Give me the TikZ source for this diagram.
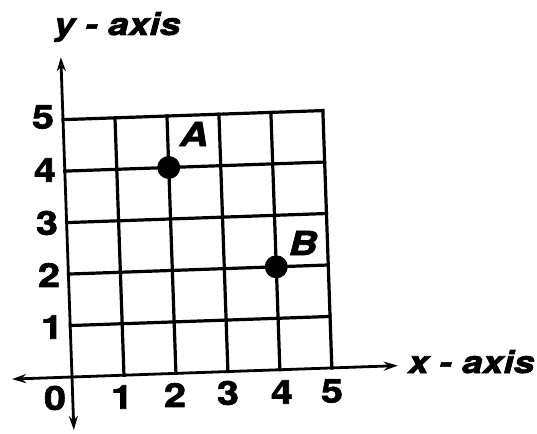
\documentclass[tikz,border=0pt]{standalone}
\usepackage{fontspec}
\setmainfont{TeX Gyre Heros}[FakeStretch=1.2, BoldFeatures={FakeBold=2}, BoldItalicFeatures={FakeBold=2}]
\usetikzlibrary{arrows.meta}
\begin{document}
\begin{tikzpicture}[x=1pt,y=-1pt,
  gridline/.style={line width=3.2pt, line cap=rect},
  axisline/.style={line width=2.8pt, {Stealth[length=14pt,width=9pt]}-{Stealth[length=14pt,width=9pt]}},
  dot/.style={circle, fill=black, inner sep=0pt, minimum size=23pt},
  num/.style={font=\fontsize{33}{40}\selectfont\bfseries, inner sep=0pt},
  ptlabel/.style={font=\fontsize{33}{40}\selectfont\bfseries\itshape, inner sep=0pt},
  axlabel/.style={font=\fontsize{31}{38}\selectfont\bfseries\itshape, inner sep=0pt, anchor=base west}]
\useasboundingbox (0,0) rectangle (537,433);
\begin{scope}[shift={(72,377)}, rotate=2]
  \foreach \i in {1,...,5} {
    \draw[gridline] (\i*52,0) -- (\i*52,-5*51.5);
    \draw[gridline] (0,-\i*51.5) -- (5*52,-\i*51.5);
  }
  \coordinate (xl) at (-60,0);
  \coordinate (xr) at (326,0);
  \coordinate (yt) at (0,-320);
  \coordinate (yb) at (0,53);
  \draw[axisline] (xl) -- (xr);
  \draw[axisline] (yb) -- (yt);
  \node[dot] (A) at (2*52,-4*51.5) {};
  \node[dot] (B) at (4*52,-2*51.5) {};
\end{scope}
\node[ptlabel] (la) at (194,134) {A};
\node[ptlabel] (lb) at (303,243) {B};
\node[axlabel] (ly) at (54,35) {y - axis};
\node[axlabel] (lx) at (408,373) {x - axis};
\node[num] (y5) at (43,117) {5};
\node[num] (y4) at (45,170) {4};
\node[num] (y3) at (47,223) {3};
\node[num] (y2) at (49,275) {2};
\node[num] (y1) at (52,327) {1};
\node[num] (o) at (55,398) {0};
\node[num] (x1) at (122,397) {1};
\node[num] (x2) at (175,395) {2};
\node[num] (x3) at (228,393) {3};
\node[num] (x4) at (282,392) {4};
\node[num] (x5) at (332,391) {5};
\end{tikzpicture}
\end{document}
